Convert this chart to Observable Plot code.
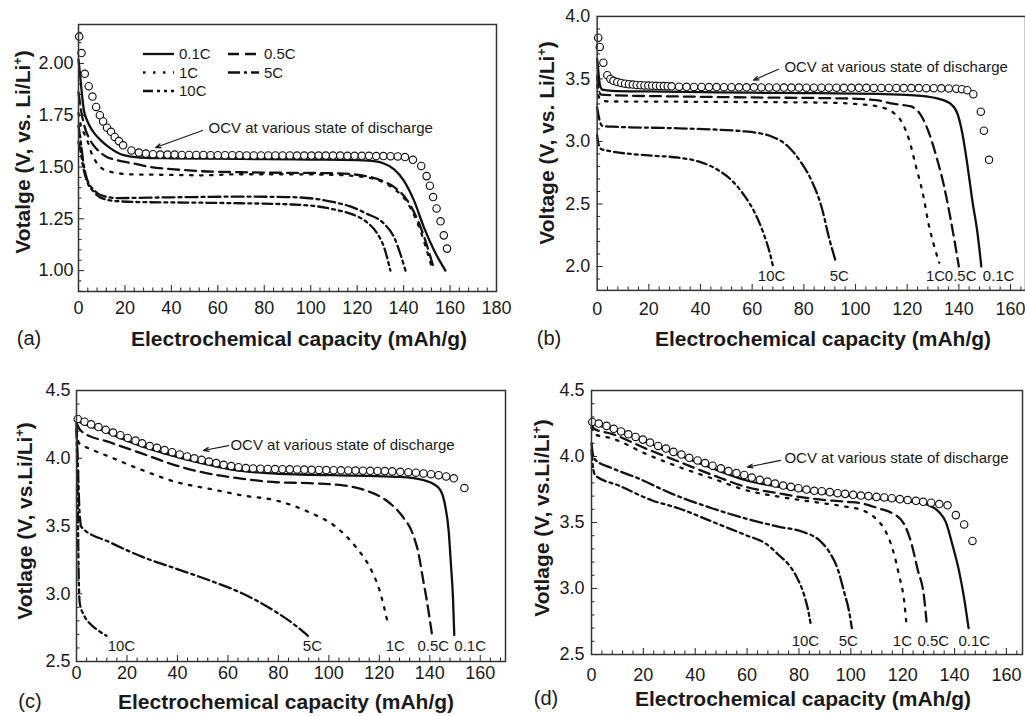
<!DOCTYPE html>
<html><head><meta charset="utf-8">
<script src="https://cdn.jsdelivr.net/npm/d3@7"></script>
<script src="https://cdn.jsdelivr.net/npm/@observablehq/plot@0.6"></script>
<style>
body{margin:0;background:#fff;font-family:"Liberation Sans",Arial,Helvetica,sans-serif;color:#1a1a1a}
#wrap{position:relative;width:1025px;height:716px;overflow:hidden;background:#fff}
.pn{position:absolute}
.t{position:absolute;white-space:nowrap;transform:translate(-50%,-50%);line-height:1}
.xl{font-weight:bold;font-size:21px}
.yl{font-weight:bold;font-size:21px;transform:translate(-50%,-50%) rotate(-90deg)}
.yl sup{font-size:0.6em;vertical-align:0.6em}
.pl{font-size:20px}
</style></head>
<body><div id="wrap"></div>
<script>
// ---------------- DATA (capacity mAh/g, voltage V) ----------------
const RATES = ["0.1C","0.5C","1C","5C","10C"];
const DASH = {"0.1C":null,"0.5C":"11,6","1C":"2.5,7.5","5C":"12,4,3,4","10C":"10,4,3,4,3,4"};

// panel (a)
const A_OCV = [[0.3,2.13],[1.3,2.05],[2.7,1.95],[4.4,1.89],[6,1.84],[7.6,1.79],[9.2,1.75],[10.6,1.72],[12.3,1.69],[14,1.67],[15.6,1.645],[17.4,1.625],[19.2,1.605],[22.8,1.58],[26,1.57],[29,1.565],[32.1,1.562],[35.2,1.56],[38.3,1.56],[41.4,1.56],[44.5,1.558],[47.6,1.558],[50.7,1.558],[53.8,1.558],[56.9,1.557],[60,1.557],[63.1,1.557],[66.2,1.557],[69.3,1.557],[72.4,1.556],[75.5,1.556],[78.6,1.556],[81.7,1.556],[84.8,1.556],[87.9,1.556],[91,1.556],[94.1,1.555],[97.2,1.555],[100.3,1.555],[103.4,1.555],[106.5,1.555],[109.6,1.555],[112.7,1.555],[115.8,1.554],[118.9,1.554],[122,1.554],[125.1,1.554],[128.2,1.553],[131.3,1.553],[134.4,1.552],[137.5,1.551],[140.6,1.548],[144,1.535],[147.6,1.505],[149.9,1.456],[151.3,1.41],[152.7,1.355],[154.2,1.30],[155.9,1.238],[157.3,1.17],[158.7,1.106]];
const A_01 = [[0,2.02],[0.8,1.93],[1.5,1.85],[2.3,1.775],[3.5,1.73],[5.2,1.69],[7,1.66],[9.5,1.63],[13.8,1.59],[19.5,1.557],[26.7,1.546],[40,1.542],[60,1.54],[80,1.538],[100,1.536],[120,1.533],[128,1.527],[131.5,1.517],[135.8,1.49],[140,1.436],[144.4,1.34],[148.7,1.21],[153,1.10],[158,1.00]];
const A_05 = [[0,1.86],[1,1.78],[2.5,1.70],[5,1.63],[8,1.585],[12,1.55],[16.6,1.533],[23.8,1.517],[31,1.50],[40,1.49],[52.5,1.48],[70,1.475],[90,1.472],[110,1.47],[124,1.456],[131.5,1.43],[135.8,1.404],[141.5,1.34],[147.3,1.21],[153.3,1.00]];
const A_1 = [[0,1.76],[1,1.70],[2.5,1.66],[3.7,1.63],[5.5,1.57],[8,1.517],[10.5,1.49],[13.8,1.477],[23.8,1.464],[40,1.462],[52.5,1.46],[70,1.465],[90,1.465],[110,1.462],[124,1.45],[131.5,1.425],[135.8,1.395],[141.5,1.33],[147,1.20],[152.5,1.00]];
const A_5 = [[0,1.70],[1,1.62],[2,1.53],[3.7,1.44],[6.6,1.39],[9.5,1.365],[16.6,1.35],[30,1.352],[50,1.355],[70,1.357],[90,1.355],[102.8,1.345],[110,1.33],[117,1.31],[124,1.275],[131.5,1.227],[135.8,1.163],[138.6,1.08],[140.8,1.00]];
const A_10 = [[0,1.62],[1,1.57],[2,1.50],[3.7,1.43],[6.6,1.38],[9.5,1.352],[16.6,1.335],[30,1.33],[50,1.328],[70,1.325],[90,1.32],[102.8,1.31],[110,1.295],[117,1.275],[124,1.235],[128.6,1.18],[131.5,1.115],[134.3,1.00]];

// panel (b)
const B_OCV = [[0.4,3.83],[1.0,3.756],[2.4,3.63],[3.9,3.53],[5.1,3.50],[6.3,3.485],[7.8,3.475],[9.3,3.468],[10.8,3.462],[12.3,3.458],[13.8,3.455],[15.3,3.452],[16.8,3.45],[18.3,3.448],[19.8,3.447],[21.3,3.446],[22.8,3.445],[24.3,3.444],[25.8,3.443],[27.3,3.442],[28.8,3.441],[31.7,3.438],[34.6,3.437],[37.5,3.436],[40.4,3.436],[43.3,3.435],[46.2,3.435],[49.1,3.434],[52,3.434],[54.9,3.433],[57.8,3.433],[60.7,3.433],[63.6,3.432],[66.5,3.432],[69.4,3.432],[72.3,3.431],[75.2,3.431],[78.1,3.431],[81,3.43],[83.9,3.43],[86.8,3.43],[89.7,3.43],[92.6,3.43],[95.5,3.429],[98.4,3.429],[101.3,3.429],[104.2,3.429],[107.1,3.428],[110,3.428],[112.9,3.428],[115.8,3.428],[118.7,3.427],[121.6,3.427],[124.5,3.427],[127.4,3.426],[130.3,3.426],[133.2,3.425],[136.1,3.424],[139,3.422],[141.2,3.418],[143.3,3.41],[145.6,3.378],[148.5,3.238],[149.7,3.086],[151.7,2.853]];
const B_01 = [[0,3.66],[0.5,3.55],[1,3.46],[2,3.415],[5.8,3.405],[20,3.40],[40,3.395],[60,3.39],[80,3.387],[100,3.383],[108.6,3.38],[121.5,3.37],[131.7,3.344],[136.9,3.30],[139.5,3.22],[141.4,3.06],[143.4,2.80],[145.2,2.53],[147.2,2.27],[148.7,2.00]];
const B_05 = [[0,3.52],[0.6,3.42],[1.5,3.375],[5.8,3.37],[31,3.36],[60,3.352],[95.8,3.344],[108,3.33],[115,3.30],[121.5,3.28],[125.3,3.21],[128.5,3.065],[131.7,2.85],[134.3,2.64],[136.9,2.37],[140,2.00]];
const B_1 = [[0,3.45],[0.6,3.36],[1.5,3.33],[5,3.32],[30,3.318],[60,3.315],[90,3.31],[100,3.30],[108.6,3.28],[115,3.225],[118.2,3.145],[120.8,3.01],[123.4,2.80],[126,2.59],[128.5,2.32],[130.5,2.16],[132.4,2.03]];
const B_5 = [[0,3.27],[0.6,3.20],[1.2,3.15],[2,3.125],[5.8,3.118],[31.5,3.105],[57.2,3.08],[67.5,3.04],[73.9,2.96],[79,2.83],[82.9,2.69],[86.8,2.48],[90,2.21],[92.5,2.03]];
const B_10 = [[0,3.05],[0.5,2.98],[1.5,2.94],[5.8,2.92],[18.6,2.89],[31.5,2.87],[39.2,2.84],[46.9,2.77],[52,2.69],[57.2,2.56],[61,2.43],[64.3,2.27],[66.8,2.11],[68.1,2.00]];
const B_LABELS = [[67.5,1.92,"10C"],[93.7,1.92,"5C"],[131,1.92,"1C"],[140.7,1.92,"0.5C"],[155.4,1.92,"0.1C"]];

// panel (c)
const C_OCV = [[0.5,4.29],[3.2,4.27],[5.8,4.25],[8.7,4.23],[11.6,4.21],[14.5,4.19],[17.4,4.17],[20.3,4.15],[23.4,4.13],[26,4.11],[29,4.09],[31.9,4.077],[34.9,4.06],[37.9,4.045],[40.9,4.028],[43.8,4.013],[46.7,4.0],[49.6,3.988],[52.5,3.976],[55.4,3.964],[58.3,3.952],[61.3,3.942],[64.2,3.934],[67.1,3.928],[70,3.925],[72.9,3.923],[75.8,3.921],[78.7,3.92],[81.6,3.919],[84.5,3.918],[87.4,3.917],[90.3,3.916],[93.2,3.915],[96.1,3.914],[99,3.913],[101.9,3.912],[104.8,3.911],[107.7,3.91],[110.6,3.909],[113.5,3.908],[116.4,3.907],[119.3,3.906],[122.2,3.905],[125.1,3.903],[128.3,3.90],[131.5,3.897],[134.5,3.893],[137.5,3.888],[140.5,3.882],[143.5,3.875],[146.5,3.866],[149.5,3.852],[153.7,3.78]];
const C_01 = [[0,4.28],[1,4.27],[9.5,4.21],[22.7,4.11],[35.9,4.03],[49.1,3.965],[62.3,3.915],[75.5,3.89],[88.7,3.88],[101.9,3.875],[115.1,3.87],[128.3,3.862],[137.6,3.838],[141.5,3.81],[144.2,3.765],[146.1,3.65],[147.5,3.46],[148.4,3.21],[149.2,2.965],[149.7,2.695]];
const C_05 = [[0,4.26],[1,4.22],[2.6,4.19],[13.2,4.118],[26.4,4.032],[39.6,3.946],[52.8,3.885],[66,3.848],[79.2,3.823],[92.4,3.816],[105.6,3.80],[114.9,3.76],[122.8,3.688],[129.4,3.565],[133.3,3.44],[135.5,3.30],[137.2,3.12],[139,2.93],[140.9,2.695]];
const C_1 = [[0,4.2],[0.8,4.12],[2,4.1],[5.3,4.07],[13.2,4.01],[26.4,3.91],[39.6,3.824],[52.8,3.774],[66,3.725],[79.2,3.688],[92.4,3.60],[103,3.49],[110.9,3.34],[116.2,3.197],[120.1,3.025],[123.4,2.78]];
const C_5 = [[0,4.25],[0.4,4.05],[0.8,3.8],[1.2,3.6],[2,3.491],[13.2,3.38],[26.4,3.27],[39.6,3.184],[52.8,3.098],[66,3.0],[79.2,2.864],[85.8,2.78],[91.7,2.69]];
const C_10 = [[0,4.22],[0.3,3.9],[0.6,3.5],[0.9,3.1],[1.3,2.93],[3,2.84],[5.3,2.78],[8.5,2.73],[11.9,2.69]];
const C_LABELS = [[17.8,2.61,"10C"],[93.5,2.61,"5C"],[126.3,2.61,"1C"],[141.4,2.61,"0.5C"],[156,2.61,"0.1C"]];

// panel (d)
const D_OCV = [[0.3,4.262],[2.8,4.25],[5.8,4.232],[8.6,4.21],[11.4,4.19],[14.2,4.168],[17,4.148],[19.8,4.128],[22.6,4.106],[25.7,4.08],[28.7,4.06],[31.6,4.035],[34.7,4.015],[37.7,3.99],[40.9,3.97],[43.8,3.95],[46.7,3.93],[49.9,3.91],[52.8,3.89],[55.9,3.874],[58.9,3.86],[61.8,3.84],[64.9,3.823],[67.9,3.81],[70.8,3.795],[73.9,3.78],[76.9,3.77],[79.8,3.76],[82.9,3.75],[85.9,3.74],[88.8,3.737],[91.9,3.73],[94.9,3.722],[97.8,3.717],[100.9,3.71],[103.9,3.704],[106.8,3.70],[109.9,3.694],[112.9,3.69],[115.8,3.684],[118.9,3.677],[121.9,3.67],[125.1,3.664],[127.9,3.657],[131,3.65],[134.1,3.64],[137.3,3.63],[140.5,3.556],[143.7,3.485],[146.9,3.36]];
const D_01 = [[0,4.28],[1,4.25],[8.1,4.21],[21,4.11],[33.8,4.01],[46.7,3.91],[59.5,3.82],[72.4,3.77],[85.2,3.732],[98,3.707],[110.9,3.68],[123.7,3.657],[130.2,3.63],[134,3.58],[136.6,3.505],[139.2,3.33],[141.8,3.126],[143.7,2.925],[145.4,2.70]];
const D_05 = [[0,4.25],[1,4.21],[8.1,4.17],[21,4.06],[33.8,3.96],[46.7,3.86],[59.5,3.77],[72.4,3.72],[85.2,3.68],[98,3.657],[104.5,3.644],[110.9,3.606],[116,3.57],[120.5,3.49],[123.1,3.36],[125.7,3.15],[128.3,2.925],[129.2,2.75]];
const D_1 = [[0,4.22],[1,4.17],[8.1,4.136],[21,4.02],[33.8,3.92],[46.7,3.833],[59.5,3.745],[72.4,3.695],[85.2,3.657],[98,3.62],[104.5,3.593],[109.6,3.53],[113.5,3.43],[116.1,3.30],[118.6,3.10],[120.6,2.90],[121.5,2.72]];
const D_5 = [[0,4.1],[0.5,4.02],[1.2,3.98],[8.1,3.91],[17,3.843],[31.1,3.717],[46.7,3.606],[59.5,3.53],[72.4,3.467],[81.4,3.43],[87.8,3.366],[91.6,3.28],[94.9,3.15],[97.4,2.975],[99.4,2.82],[100.4,2.70]];
const D_10 = [[0,4.05],[0.5,3.93],[1.5,3.856],[10.5,3.78],[23.4,3.667],[33.8,3.606],[46.7,3.505],[59.5,3.404],[67.2,3.34],[72.4,3.25],[76.2,3.177],[79.4,3.076],[82,2.95],[83.7,2.82],[84.6,2.72]];
const D_LABELS = [[82.5,2.60,"10C"],[99,2.60,"5C"],[119.9,2.60,"1C"],[131.8,2.60,"0.5C"],[147.6,2.60,"0.1C"]];

const ANN_TEXT = "OCV at various state of discharge";
// [text x, text y, arrow from x, from y, to x, to y] in data units
const A_ANN = [56,1.686,53.4,1.676,33.2,1.594];
const B_ANN = [72.5,3.594,70.2,3.578,60.5,3.49];
const C_ANN = [61,4.10,60.2,4.093,50.3,4.057];
const D_ANN = [74.4,3.985,72.9,3.97,60.1,3.92];

// ---------------- DRAWING ----------------
const wrap = document.getElementById("wrap");
const FONT = '"Liberation Sans", Arial, Helvetica, sans-serif';

function makePanel(c){
  const plotW = c.width - c.mL - c.mR, plotH = c.height - c.mT - c.mB;
  const [x0,x1] = c.xDomain, [y0,y1] = c.yDomain;
  const dyv = px => (y1-y0)*px/plotH, dxv = px => (x1-x0)*px/plotW;
  const steps = (a,b,s) => { const r=[]; for(let k=Math.ceil(a/s-1e-9); k*s<=b+1e-9; k++) r.push(+(k*s).toFixed(6)); return r; };
  const isMaj = (v,m) => Math.abs(v/m - Math.round(v/m)) < 1e-6;
  const xMin = steps(x0,x1,c.xMajor/5).filter(v=>v>x0+1e-9 && v<x1-1e-9);
  const yMin = steps(y0,y1,c.yMajor/5).filter(v=>v>y0+1e-9 && v<y1-1e-9);
  const marks = [
    Plot.ruleX(xMin,{x:d=>d,y1:y0,y2:d=>y0+dyv(isMaj(d,c.xMajor)?6:3.5),stroke:"#333",strokeWidth:1.1}),
    Plot.ruleY(yMin,{y:d=>d,x1:x0,x2:d=>x0+dxv(isMaj(d,c.yMajor)?6:3.5),stroke:"#333",strokeWidth:1.1})
  ];
  c.series.forEach((s,i)=>{
    marks.push(Plot.line(s,{x:d=>d[0],y:d=>d[1],stroke:"#111",strokeWidth:2.3,
      strokeDasharray:DASH[RATES[i]]||undefined,curve:"monotone-x"}));
  });
  marks.push(Plot.dot(c.ocv,{x:d=>d[0],y:d=>d[1],r:3.7,stroke:"#111",strokeWidth:1.15,fill:"white"}));
  if(c.labels) marks.push(Plot.text(c.labels,{x:d=>d[0],y:d=>d[1],text:d=>d[2],fontSize:15,fill:"#1a1a1a"}));
  const a = c.ann;
  marks.push(Plot.arrow([a],{x1:d=>d[2],y1:d=>d[3],x2:d=>d[4],y2:d=>d[5],stroke:"#1a1a1a",strokeWidth:1.2,headLength:7,headAngle:40}));
  marks.push(Plot.text([a],{x:d=>d[0],y:d=>d[1],text:()=>ANN_TEXT,textAnchor:"start",fontSize:15,fill:"#1a1a1a"}));
  marks.push(Plot.frame({stroke:"#333",strokeWidth:1.5}));
  marks.push(Plot.axisX({ticks:c.xTicks,tickSize:0,tickPadding:c.xPad,label:null,tickFormat:d3.format("d")}));
  marks.push(Plot.axisY({ticks:c.yTicks,tickSize:0,tickPadding:c.yPad,label:null,tickFormat:d3.format(c.yFmt)}));
  const svg = Plot.plot({
    width:c.width,height:c.height,marginLeft:c.mL,marginRight:c.mR,marginTop:c.mT,marginBottom:c.mB,
    x:{domain:c.xDomain},y:{domain:c.yDomain},
    style:{fontFamily:FONT,fontSize:"18px",color:"#1a1a1a",background:"transparent",overflow:"visible"},
    marks
  });
  const d = document.createElement("div");
  d.className="pn"; d.style.left=c.left+"px"; d.style.top=c.top+"px";
  d.appendChild(svg); wrap.appendChild(d);
}

function txt(cls,x,y,html){
  const d=document.createElement("div"); d.className="t "+cls;
  d.style.left=x+"px"; d.style.top=y+"px"; d.innerHTML=html; wrap.appendChild(d);
}

makePanel({left:0,top:0,width:512,height:358,mL:78,mR:16,mT:24,mB:67,
  xDomain:[0,180],yDomain:[0.899,2.188],xMajor:20,yMajor:0.25,
  xTicks:d3.range(0,181,20),yTicks:[1,1.25,1.5,1.75,2],yFmt:".2f",xPad:10,yPad:5,
  series:[A_01,A_05,A_1,A_5,A_10],ocv:A_OCV,ann:A_ANN});
makePanel({left:512,top:0,width:515,height:358,mL:85,mR:0,mT:16,mB:67,
  xDomain:[0,165.8],yDomain:[1.809,4.0],xMajor:20,yMajor:0.5,
  xTicks:d3.range(0,161,20),yTicks:[2,2.5,3,3.5,4],yFmt:".1f",xPad:12,yPad:7,
  series:[B_01,B_05,B_1,B_5,B_10],ocv:B_OCV,labels:B_LABELS,ann:B_ANN});
makePanel({left:0,top:358,width:512,height:358,mL:76,mR:7,mT:32,mB:55,
  xDomain:[0,170],yDomain:[2.5,4.5],xMajor:20,yMajor:0.5,
  xTicks:d3.range(0,161,20),yTicks:[2.5,3,3.5,4,4.5],yFmt:".1f",xPad:5,yPad:6,
  series:[C_01,C_05,C_1,C_5,C_10],ocv:C_OCV,labels:C_LABELS,ann:C_ANN});
makePanel({left:512,top:358,width:513,height:358,mL:79,mR:3,mT:32,mB:62,
  xDomain:[0,166.2],yDomain:[2.5,4.5],xMajor:20,yMajor:0.5,
  xTicks:d3.range(0,161,20),yTicks:[2.5,3,3.5,4,4.5],yFmt:".1f",xPad:14,yPad:7,
  series:[D_01,D_05,D_1,D_5,D_10],ocv:D_OCV,labels:D_LABELS,ann:D_ANN});

// axis titles and panel letters
const XT = "Electrochemical capacity (mAh/g)";
txt("xl",299,338,XT); txt("xl",823,338,XT); txt("xl",286,701,XT); txt("xl",803,698,XT);
txt("pl",29,338,"(a)"); txt("pl",549,338,"(b)"); txt("pl",30,701,"(c)"); txt("pl",546,698,"(d)");
txt("yl",22,152,"Votalge (V, vs. Li/Li<sup>+</sup>)");
txt("yl",546,143,"Voltage (V, vs. Li/Li<sup>+</sup>)");
txt("yl",24,521,"Votlage (V, vs.Li/Li<sup>+</sup>)");
txt("yl",541,518,"Votlage (V, vs.Li/Li<sup>+</sup>)");

// legend in panel (a)
const LEG = [[0,0],[1,0],[0,1],[1,1],[0,2]]; // column,row for RATES order
const lg = d3.select(wrap).append("svg").attr("width",512).attr("height",358)
  .style("position","absolute").style("left","0px").style("top","0px");
RATES.forEach((r,i)=>{
  const [col,row]=LEG[i];
  const lx = col?228:143, ly = 54+row*18.5;
  lg.append("line").attr("x1",lx).attr("x2",lx+31).attr("y1",ly).attr("y2",ly)
    .attr("stroke","#111").attr("stroke-width",2.3).attr("stroke-dasharray",DASH[r]||null);
  lg.append("text").attr("x",lx+36).attr("y",ly).attr("dy","0.35em").attr("font-size",15)
    .attr("font-family",FONT).attr("fill","#1a1a1a").text(r);
});
</script></body></html>
